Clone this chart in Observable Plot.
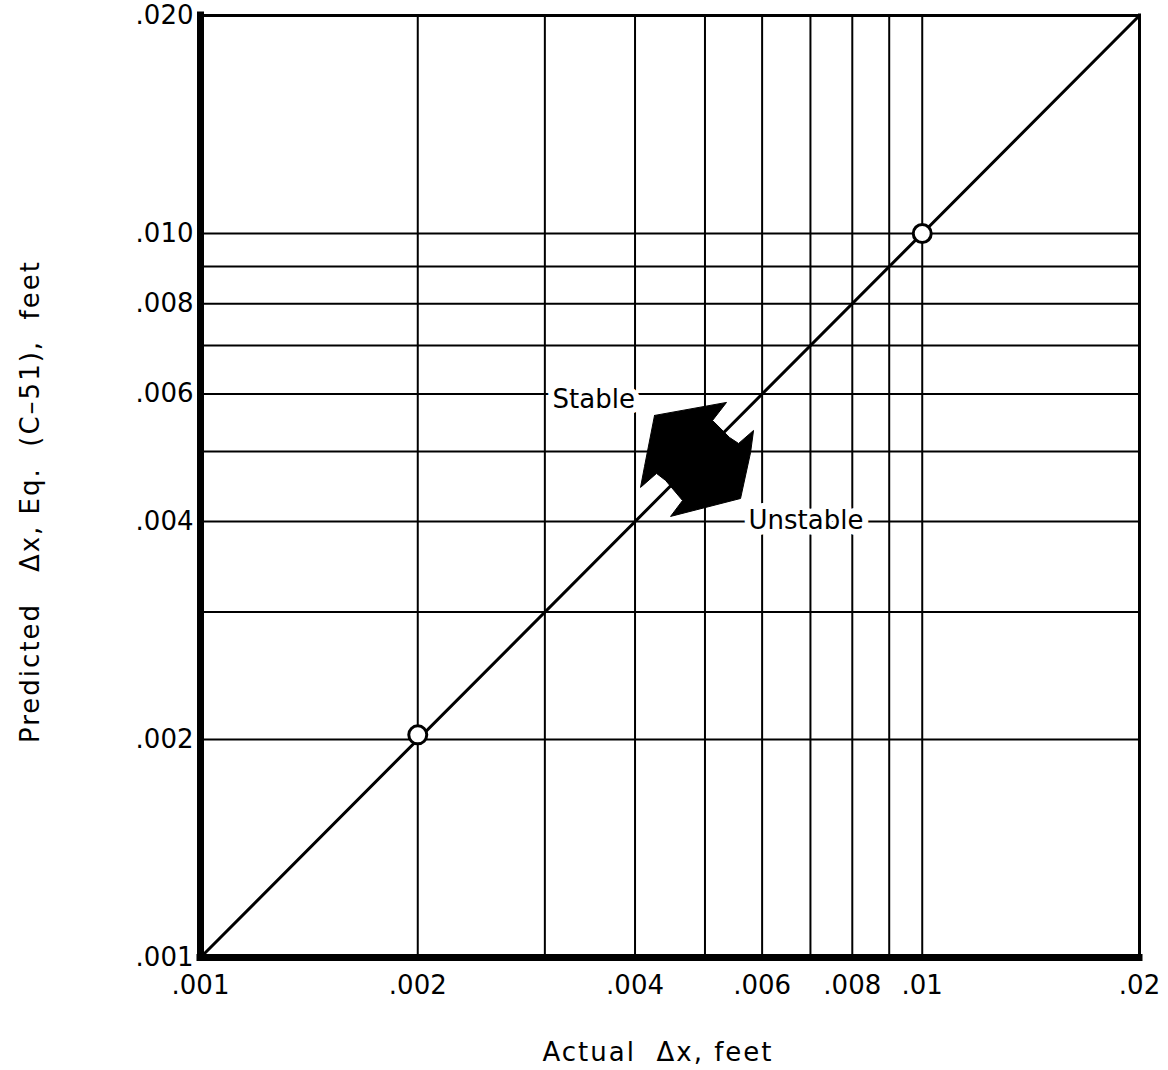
<!DOCTYPE html>
<html>
<head>
<meta charset="utf-8">
<script src="https://cdn.jsdelivr.net/npm/d3@7"></script>
<script src="https://cdn.jsdelivr.net/npm/@observablehq/plot@0.6"></script>
<style>
  html, body { margin: 0; padding: 0; background: white; }
</style>
</head>
<body>
<div id="chart"></div>
<script>
// Tick values and labels
const xTicks = [0.001, 0.002, 0.004, 0.006, 0.008, 0.01, 0.02];
const xTickLabels = [".001", ".002", ".004", ".006", ".008", ".01", ".02"];
const yTicks = [0.001, 0.002, 0.004, 0.006, 0.008, 0.010, 0.020];
const yTickLabels = [".001", ".002", ".004", ".006", ".008", ".010", ".020"];

// Grid lines (log-paper style)
const xGrid = [0.002, 0.003, 0.004, 0.005, 0.006, 0.007, 0.008, 0.009, 0.01];
const yGrid = [0.002, 0.003, 0.004, 0.005, 0.006, 0.007, 0.008, 0.009, 0.010];

// Line of perfect agreement (predicted = actual)
const lineActual = [0.001, 0.02];
const linePredicted = [0.001, 0.02];

// Data points
const pointActual = [0.002, 0.01];
const pointPredicted = [0.00203, 0.01];

// Double arrow annotation outline (feet, feet)
const arrowActual =    [0.004257, 0.005356, 0.005122, 0.005408, 0.005566, 0.005838, 0.005783, 0.005601, 0.004480, 0.004655, 0.004410, 0.004284, 0.004071, 0.004123, 0.004257];
const arrowPredicted = [0.005606, 0.005843, 0.005517, 0.005226, 0.005128, 0.005345, 0.004983, 0.004305, 0.004066, 0.004277, 0.004559, 0.004662, 0.004459, 0.004767, 0.005606];

// Annotation labels
const noteText = ["Stable", "Unstable"];
const noteActual = [0.003075, 0.005745];
const notePredicted = [0.005898, 0.004015];

const xTitle = "Actual\u00a0\u00a0Δx,\u00a0feet";
const yTitle = "Predicted\u00a0\u00a0\u00a0Δx,\u00a0Eq.\u00a0\u00a0(C–51),\u00a0\u00a0feet";

const lineData = lineActual.map((x, i) => ({x, y: linePredicted[i]}));
const pointData = pointActual.map((x, i) => ({x, y: pointPredicted[i]}));
const arrowData = arrowActual.map((x, i) => ({x, y: arrowPredicted[i]}));
const noteData = noteText.map((t, i) => ({t, x: noteActual[i], y: notePredicted[i]}));

const font = "'DejaVu Sans', sans-serif";

const chart = Plot.plot({
  width: 1168,
  height: 1070,
  marginLeft: 200,
  marginRight: 29,
  marginTop: 15,
  marginBottom: 113,
  style: {fontFamily: font, fontSize: "26px", color: "black", background: "white"},
  x: {
    type: "log", domain: [0.001, 0.02], ticks: xTicks,
    tickFormat: d => xTickLabels[xTicks.indexOf(d)],
    tickSize: 0, tickPadding: 18, label: null
  },
  y: {
    type: "log", domain: [0.001, 0.02], ticks: yTicks,
    tickFormat: d => yTickLabels[yTicks.indexOf(d)],
    tickSize: 0, tickPadding: 7, label: null
  },
  marks: [
    Plot.ruleX(xGrid, {stroke: "black", strokeWidth: 2}),
    Plot.ruleY(yGrid, {stroke: "black", strokeWidth: 2}),
    Plot.line(lineData, {x: "x", y: "y", stroke: "black", strokeWidth: 3}),
    Plot.text(noteData, {x: "x", y: "y", text: "t", textAnchor: "start", fontSize: 26,
      fill: "black", stroke: "white", strokeWidth: 12, paintOrder: "stroke"}),
    Plot.line(arrowData, {x: "x", y: "y", fill: "black", stroke: "black", strokeWidth: 1, curve: "linear"}),
    Plot.dot(pointData, {x: "x", y: "y", r: 9, fill: "white", stroke: "black", strokeWidth: 3}),
    Plot.ruleX([0.02], {stroke: "black", strokeWidth: 3, strokeLinecap: "square"}),
    Plot.ruleY([0.02], {stroke: "black", strokeWidth: 3, strokeLinecap: "square"}),
    Plot.ruleX([0.001], {stroke: "black", strokeWidth: 7, strokeLinecap: "square"}),
    Plot.ruleY([0.001], {stroke: "black", strokeWidth: 7, strokeLinecap: "square"}),
    Plot.text([xTitle], {frameAnchor: "bottom", lineAnchor: "middle", textAnchor: "middle",
      dy: 95, dx: -12, fontSize: 26, fill: "black"}),
    Plot.text([yTitle], {frameAnchor: "left", rotate: -90, textAnchor: "middle", lineAnchor: "middle",
      dx: -170, dy: 15, fontSize: 26, fill: "black"})
  ]
});

document.getElementById("chart").appendChild(chart);
d3.select(chart).selectAll("text").each(function() {
  const t = this.textContent;
  if (t === xTitle || t === yTitle) this.style.letterSpacing = "2px";
});
</script>
</body>
</html>
